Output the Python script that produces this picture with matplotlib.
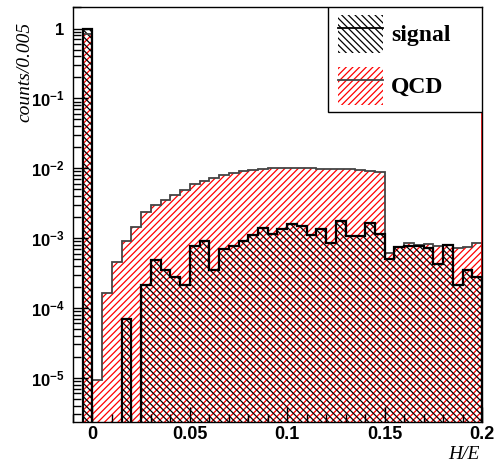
import numpy as np
import matplotlib
matplotlib.use("Agg")
import matplotlib.pyplot as plt
from matplotlib.patches import Patch, Rectangle
from matplotlib.lines import Line2D
from matplotlib.ticker import FuncFormatter, LogLocator, NullFormatter, MultipleLocator

# H/E distributions, bin width 0.005 starting at -0.01
edges = np.round(np.linspace(-0.01, 0.2, 43), 4)

signal = [0, 1.0, 0, 0, 0, 6.9e-5, 0, 2.1e-4, 4.9e-4, 3.55e-4, 2.8e-4, 2.1e-4,
          7.7e-4, 9.1e-4, 3.55e-4, 6.9e-4, 7.7e-4, 9.1e-4, 1.1e-3, 1.4e-3,
          1.14e-3, 1.33e-3, 1.6e-3, 1.5e-3, 1.12e-3, 1.33e-3, 8.5e-4, 1.75e-3,
          1.06e-3, 1.06e-3, 1.67e-3, 1.14e-3, 5.0e-4, 7.4e-4, 7.6e-4, 7.8e-4,
          7.1e-4, 4.2e-4, 7.9e-4, 2.1e-4, 3.5e-4, 2.8e-4]

qcd = [0, 0.83, 9.2e-6, 1.64e-4, 4.5e-4, 9.0e-4, 1.45e-3, 2.38e-3, 2.93e-3,
       3.49e-3, 4.2e-3, 4.85e-3, 5.9e-3, 6.6e-3, 7.3e-3, 8.0e-3, 8.6e-3,
       9.1e-3, 9.3e-3, 9.9e-3, 1.02e-2, 1.02e-2, 1.0e-2, 1.0e-2, 1.0e-2,
       9.9e-3, 9.9e-3, 9.7e-3, 9.6e-3, 9.5e-3, 9.0e-3, 8.9e-3, 6.1e-4,
       7.5e-4, 8.4e-4, 7.9e-4, 8.3e-4, 7.6e-4, 7.9e-4, 7.1e-4, 7.5e-4, 8.6e-4]

labels = ["signal", "QCD"]

plt.rcParams['hatch.linewidth'] = 0.9
plt.rcParams['mathtext.fontset'] = 'custom'
plt.rcParams['mathtext.rm'] = 'Liberation Sans'
plt.rcParams['mathtext.bf'] = 'Liberation Sans:bold'

sig_hatch = '\\' * 5
qcd_hatch = '/' * 5

fig = plt.figure(figsize=(4.95, 4.68), dpi=100)
ax = fig.add_axes([0.1475, 0.0983, 0.8262, 0.8857])
ax.set_yscale('log')

floor = 1e-9
ax.stairs(qcd, edges, baseline=floor, fill=True, facecolor='none',
          edgecolor='red', linewidth=0, hatch=qcd_hatch, zorder=1)
ax.stairs(signal, edges, baseline=floor, fill=True, facecolor='none',
          edgecolor='black', linewidth=0, hatch=sig_hatch, zorder=2)
ax.stairs(qcd, edges, baseline=floor, color='#444444', linewidth=1.3, zorder=3)
ax.stairs(signal, edges, baseline=floor, color='black', linewidth=1.6, zorder=4)
ax.axvline(edges[-1], color='red', linewidth=1.2, zorder=3)

ax.set_xlim(-0.01, 0.2)
ax.set_ylim(2.33e-6, 2.0)

ax.xaxis.set_major_locator(MultipleLocator(0.05))
ax.xaxis.set_minor_locator(MultipleLocator(0.01))
ax.xaxis.set_major_formatter(FuncFormatter(lambda v, p: '%g' % round(v, 3)))
ax.yaxis.set_major_locator(LogLocator(base=10, numticks=20))
ax.yaxis.set_minor_locator(LogLocator(base=10, subs=np.arange(2, 10), numticks=20))
ax.yaxis.set_minor_formatter(NullFormatter())
ax.yaxis.set_major_formatter(FuncFormatter(
    lambda v, p: '1' if abs(v - 1) < 1e-9 else r'$\mathbf{10^{%d}}$' % round(np.log10(v))))
ax.tick_params(which='both', direction='in', top=False, right=False, width=1)
ax.tick_params(which='major', length=11)
ax.tick_params(which='minor', length=6)
ax.tick_params(axis='x', pad=3, labelsize=13)
ax.tick_params(axis='y', pad=6, labelsize=12)
for lab in ax.get_xticklabels() + ax.get_yticklabels():
    lab.set_fontweight('bold')
    lab.set_family('Liberation Sans')

ax.set_xlabel('H/E', family='Liberation Serif', style='italic', size=14, loc='right')
ax.set_ylabel('counts/0.005', family='Liberation Serif', style='italic', size=14, loc='top')
ax.xaxis.set_label_coords(0.995, -0.058)
ax.yaxis.set_label_coords(-0.097, 0.965)

for s in ax.spines.values():
    s.set_linewidth(1)
    s.set_zorder(6)

# legend box in the top right corner
ax.add_patch(Rectangle((0.623, 0.749), 0.377, 0.251, transform=ax.transAxes,
                       facecolor='white', edgecolor='black', linewidth=1, zorder=7))
handles = [
    (Patch(facecolor='none', edgecolor='black', hatch=sig_hatch, linewidth=0),
     Line2D([], [], color='black', linewidth=1.3)),
    (Patch(facecolor='none', edgecolor='red', hatch=qcd_hatch, linewidth=0),
     Line2D([], [], color='#444444', linewidth=1.3)),
]
leg = ax.legend(handles, labels, loc='upper left', bbox_to_anchor=(0.648, 0.983),
                frameon=False, borderpad=0, borderaxespad=0,
                handlelength=1.9, handleheight=2.1, labelspacing=0.6, handletextpad=0.35,
                prop=dict(family='Liberation Serif', weight='bold', size=17))
leg.set_zorder(8)

fig.savefig('out.png', dpi=100)
